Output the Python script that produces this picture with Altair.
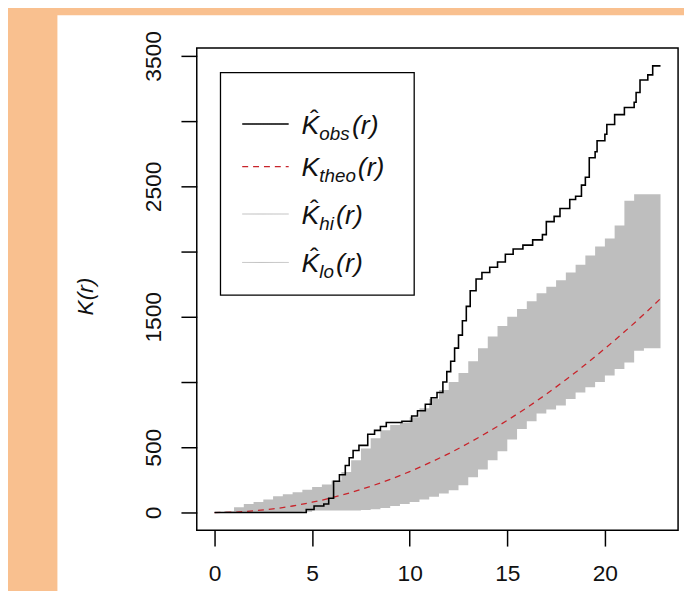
import altair as alt
import pandas as pd

# ---------------- data ----------------
r_obs = [0, 4.7, 5.1, 5.6, 5.85, 6.1, 6.4, 6.7, 6.9, 7.1, 7.4, 7.85, 8.2, 8.5, 8.8, 9.6,
         10.1, 10.4, 10.8, 11.1, 11.4, 11.7, 11.9, 12.1, 12.3, 12.5, 12.7, 12.9, 13.1,
         13.4, 13.7, 14.1, 14.5, 14.9, 15.3, 15.8, 16.3, 16.8, 17.0, 17.4, 17.7, 18.2,
         18.5, 18.8, 19.0, 19.2, 19.5, 19.6, 20.0, 20.1, 20.5, 21.0, 21.5, 21.6, 21.8,
         22.2, 22.45, 22.85]
k_obs = [0, 23, 50, 65, 110, 240, 290, 360, 420, 475, 515, 600, 630, 660, 690, 700,
         740, 780, 830, 880, 920, 1000, 1080, 1160, 1260, 1360, 1470, 1580, 1700,
         1790, 1840, 1880, 1920, 1980, 2020, 2050, 2090, 2130, 2230, 2270, 2330, 2400,
         2425, 2510, 2570, 2720, 2765, 2850, 2900, 2975, 3050, 3105, 3145, 3220, 3315,
         3355, 3424, 3424]

r_theo = [0, 1, 2, 3, 4, 5, 6, 7, 8, 9, 10, 11, 12, 13, 14, 15, 16, 17, 18, 19, 20, 21, 22, 22.85]
k_theo = [0, 3, 13, 28, 50, 79, 113, 154, 201, 254, 314, 380, 452, 531, 616, 707, 804,
          908, 1018, 1134, 1257, 1385, 1520, 1640]

r_band = [0, 0.5, 1.0, 1.5, 2.0, 2.5, 3.0, 3.5, 4.0, 4.5, 5.0, 5.5, 6.0, 6.5, 7.0, 7.5,
          8.0, 8.5, 9.0, 9.5, 10.0, 10.5, 11.0, 11.5, 12.0, 12.5, 13.0, 13.5, 14.0, 14.5,
          15.0, 15.5, 16.0, 16.5, 17.0, 17.5, 18.0, 18.5, 19.0, 19.5, 20.0, 20.5, 21.0,
          21.5, 22.0, 22.5, 22.85]
k_hi = [0, 10, 40, 65, 80, 100, 125, 140, 155, 175, 195, 215, 245, 310, 400, 490,
        570, 630, 670, 690, 730, 800, 870, 940, 1000, 1070, 1160, 1260, 1350, 1430,
        1500, 1560, 1620, 1680, 1730, 1780, 1840, 1900, 1970, 2040, 2100, 2200, 2390,
        2440, 2440, 2440, 2440]
k_lo = [0, 0, 0, 0, 0, 0, 0, 0, 0, 5, 15, 15, 15, 15, 15, 20,
        25, 35, 50, 65, 80, 100, 120, 145, 170, 210, 270, 330, 400, 470,
        560, 640, 700, 760, 790, 820, 870, 920, 960, 1000, 1050, 1100, 1150,
        1240, 1260, 1260, 1260]

x_ticks = [0, 5, 10, 15, 20]
y_ticks = [0, 500, 1000, 1500, 2000, 2500, 3000, 3500]

legend_sub = ["obs", "theo", "hi", "lo"]
legend_hat = [True, False, True, True]
legend_color = ["black", "#C8242B", "#BEBEBE", "#BEBEBE"]
legend_dash = [[1, 0], [6, 5], [1, 0], [1, 0]]
legend_width = [1.6, 1.3, 1.0, 1.0]

# ---------------- layout ----------------
W, H = 487, 488
ORANGE = "#F9C08F"
FONT = "Liberation Sans"

xs = alt.Scale(domain=[-0.91, 23.75], nice=False, zero=False)
ys = alt.Scale(domain=[-136, 3561], nice=False, zero=False)

obs_df = pd.DataFrame({"r": r_obs, "k": k_obs})
theo_df = pd.DataFrame({"r": r_theo, "k": k_theo})
band_df = pd.DataFrame({"r": r_band, "hi": k_hi, "lo": k_lo})
one = pd.DataFrame({"a": [0]})

x_axis = alt.Axis(values=x_ticks, tickSize=16, tickWidth=1.5, tickColor="black",
                  labelFontSize=23, labelFont=FONT, labelColor="#111111", labelPadding=17,
                  domain=False, grid=False, title=None, zindex=1, labelFlush=False)
y_axis = alt.Axis(values=y_ticks, format="d", tickSize=16, tickWidth=1.5, tickColor="black",
                  labelFontSize=23, labelFont=FONT, labelColor="#111111",
                  labelAngle=270, labelAlign="center", labelBaseline="alphabetic",
                  labelPadding=21, labelFlush=False,
                  labelExpr="(datum.value == 0 || datum.value % 1000 == 500) ? datum.label : ''",
                  domain=False, grid=False, zindex=1,
                  title="K(r)", titleFont=FONT, titleFontSize=23, titleFontStyle="italic",
                  titleFontWeight="normal", titleColor="#111111", titleAngle=270,
                  titleX=-113, titleY=251, titleAlign="center", titleBaseline="middle")

bg = alt.Chart(one).mark_rect(color="white").encode(
    x=alt.value(-141), x2=alt.value(493), y=alt.value(-33), y2=alt.value(560))

band = alt.Chart(band_df).mark_area(interpolate="step-after", color="#BEBEBE", opacity=1).encode(
    x=alt.X("r:Q", scale=xs, axis=x_axis),
    y=alt.Y("hi:Q", scale=ys, axis=y_axis),
    y2="lo:Q")

theo = alt.Chart(theo_df).mark_line(color="#C8242B", strokeDash=[6, 5], strokeWidth=1.3,
                                    interpolate="monotone").encode(
    x=alt.X("r:Q", scale=xs), y=alt.Y("k:Q", scale=ys))

obs = alt.Chart(obs_df).mark_line(color="black", strokeWidth=1.6, interpolate="step-after").encode(
    x=alt.X("r:Q", scale=xs), y=alt.Y("k:Q", scale=ys))

frame = alt.Chart(one).mark_rect(filled=False, stroke="black", strokeWidth=1.5).encode(
    x=alt.value(0), x2=alt.value(W), y=alt.value(0), y2=alt.value(H))

# legend box (relative to plot origin)
LX0, LY0, LX1, LY1 = 24, 25, 220, 250
rows = [77, 120, 168, 217]
legend_layers = [
    alt.Chart(one).mark_rect(fill="white", stroke="black", strokeWidth=1.3).encode(
        x=alt.value(LX0), x2=alt.value(LX1), y=alt.value(LY0), y2=alt.value(LY1))
]
KX = 106
SUB_W = {"obs": 31, "theo": 37, "hi": 15, "lo": 15}
for i, sub in enumerate(legend_sub):
    ry = rows[i]
    legend_layers.append(
        alt.Chart(one).mark_rule(color=legend_color[i], strokeWidth=legend_width[i],
                                 strokeDash=legend_dash[i]).encode(
            x=alt.value(46), x2=alt.value(93), y=alt.value(ry)))
    legend_layers.append(
        alt.Chart(one).mark_text(text="K", align="left", baseline="alphabetic", font=FONT,
                                 fontSize=27, fontStyle="italic", color="#111111").encode(
            x=alt.value(KX), y=alt.value(ry + 10)))
    if legend_hat[i]:
        legend_layers.append(
            alt.Chart(one).mark_text(text="\u02c6", align="center", baseline="alphabetic",
                                     font=FONT, fontSize=26, color="#111111").encode(
                x=alt.value(KX + 13), y=alt.value(ry + 4)))
    legend_layers.append(
        alt.Chart(one).mark_text(text=sub, align="left", baseline="alphabetic", font=FONT,
                                 fontSize=19, fontStyle="italic", color="#111111").encode(
            x=alt.value(KX + 18), y=alt.value(ry + 16)))
    legend_layers.append(
        alt.Chart(one).mark_text(text="(r)", align="left", baseline="alphabetic", font=FONT,
                                 fontSize=27, fontStyle="italic", color="#111111").encode(
            x=alt.value(KX + 20 + SUB_W[sub]), y=alt.value(ry + 10)))

chart = alt.layer(bg, band, theo, obs, frame, *legend_layers).properties(
    width=W, height=H,
    background=ORANGE,
    padding={"left": 191, "top": 37, "right": 6, "bottom": 58},
    autosize=alt.AutoSizeParams(type="none"),
).configure_view(stroke=None)

chart.save("out.html", embed_options={"renderer": "svg", "actions": False})
